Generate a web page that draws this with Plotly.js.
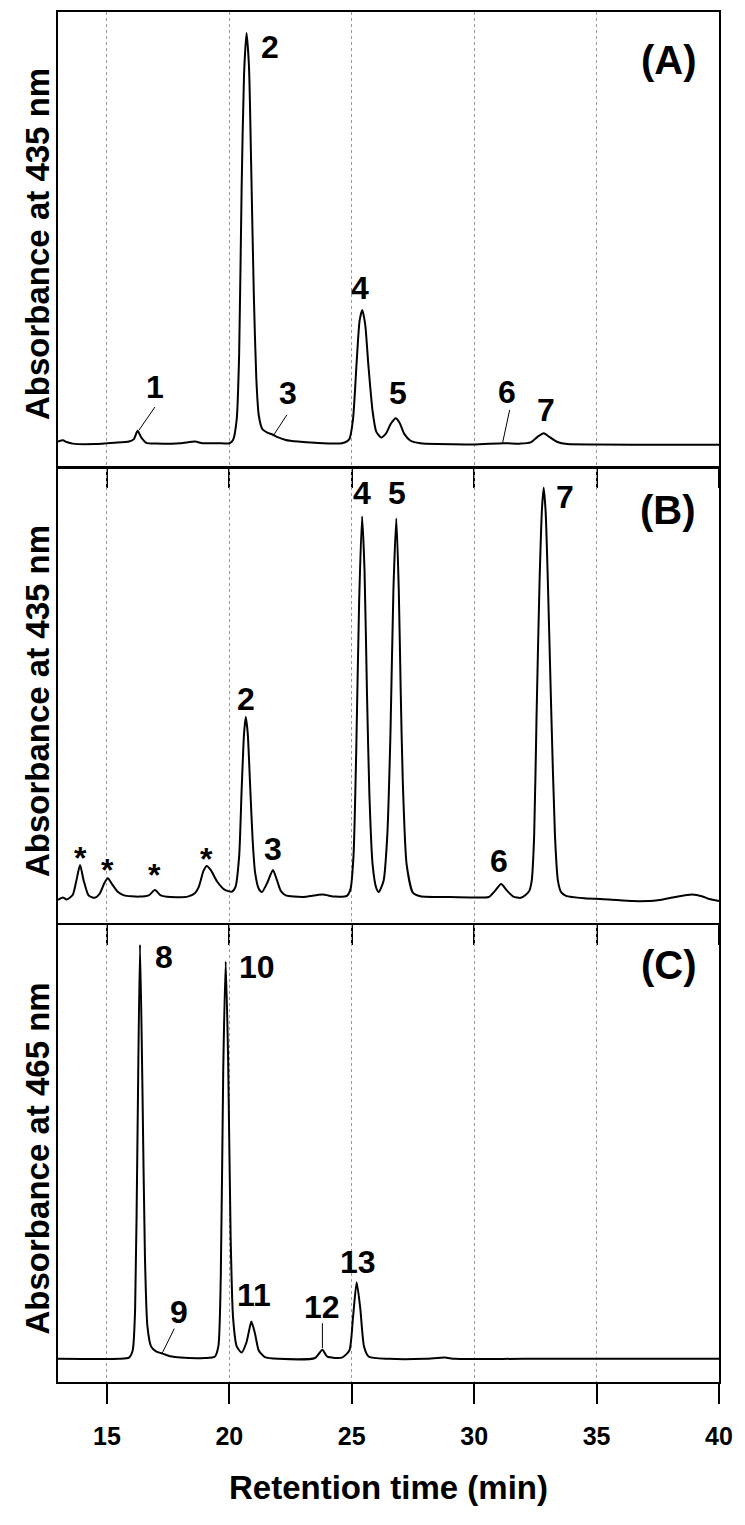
<!DOCTYPE html>
<html>
<head>
<meta charset="utf-8">
<script src="https://cdn.plot.ly/plotly-3.0.1.min.js"></script>
<style>
  html, body { margin: 0; padding: 0; background: #ffffff; }
  #chart { width: 745px; height: 1525px; }
</style>
</head>
<body>
<div id="chart"></div>
<script>
// ---------- data ----------
// Panel A: absorbance at 435 nm (arbitrary units, tallest peak = 100)
var timeA = [13.0, 13.2, 13.35, 13.6, 14.5, 15.3, 15.9, 16.1, 16.25, 16.4, 16.6, 17.0, 18.0, 18.6, 18.9, 19.5,
             20.0, 20.15, 20.3, 20.4, 20.5, 20.6, 20.7, 20.8, 20.9, 21.0, 21.1, 21.2, 21.35, 21.55, 21.8, 22.0, 22.3, 22.8, 23.5,
             24.6, 24.9, 25.05, 25.2, 25.32, 25.43, 25.55, 25.68, 25.85, 26.0, 26.2, 26.4, 26.6, 26.8, 26.95, 27.15, 27.4, 27.8, 28.5,
             30.0, 31.2, 31.9, 32.3, 32.6, 32.84, 33.1, 33.4, 33.8, 35.0, 38.0, 40.0];
var absA  = [0.6, 0.9, 0.5, 0.1, 0.0, 0.3, 0.6, 1.2, 3.2, 1.6, 0.3, 0.1, 0.2, 0.6, 0.2, 0.2,
             0.2, 1.0, 6, 22, 62, 90, 100, 92, 65, 36, 16, 7, 3.6, 2.8, 2.2, 1.6, 1.0, 0.6, 0.3,
             0.2, 1.2, 6, 20, 30, 32.6, 29, 19, 8, 3, 1.6, 2.6, 5, 6.3, 5.2, 2.4, 0.8, 0.2, 0.0,
             -0.1, 0.2, 0.1, 0.4, 1.8, 2.6, 1.6, 0.5, 0.0, -0.1, -0.2, -0.2];

// Panel B: absorbance at 435 nm
var timeB = [13.0, 13.2, 13.35, 13.6, 13.75, 13.9, 14.05, 14.25, 14.5, 14.7, 14.9, 15.04, 15.2, 15.45, 15.7, 16.3, 16.7, 16.96, 17.2, 17.6,
             18.3, 18.6, 18.75, 18.95, 19.08, 19.25, 19.5, 19.8, 20.1, 20.25, 20.4, 20.5, 20.6, 20.67, 20.75, 20.85, 20.95, 21.05, 21.2, 21.33,
             21.55, 21.78, 21.95, 22.1, 22.3, 23.0, 23.8, 24.3, 24.8, 24.95, 25.07, 25.18, 25.3, 25.42, 25.52, 25.62, 25.72, 25.85, 26.0, 26.1,
             26.3, 26.45, 26.58, 26.7, 26.82, 26.92, 27.0, 27.08, 27.24, 27.5, 27.8, 29.0, 30.0, 30.6, 30.85, 31.1, 31.35, 31.6, 31.9,
             32.1, 32.25, 32.35, 32.45, 32.55, 32.67, 32.77, 32.84, 32.92, 33.01, 33.15, 33.3, 33.42, 33.55, 33.75, 34.5,
             35.5, 36.5, 37.5, 38.2, 38.9, 39.3, 39.6, 40.0];
var absB  = [-0.7, -0.1, -0.6, 0.5, 4, 7.8, 4, 0.4, -0.2, 0.8, 3.5, 4.6, 3.2, 1.2, 0.4, 0.1, 0.4, 1.7, 0.4, 0.0,
             0.1, 1.0, 2.5, 6.5, 7.6, 6.5, 3.8, 1.8, 1.3, 2.5, 10, 26, 40, 44, 40, 27, 14, 6, 2, 1.2,
             3.5, 6.6, 4, 1.5, 0.4, 0.0, 0.6, 0.1, 0.3, 2, 10, 35, 72, 93, 80, 50, 25, 8, 2.2, 1.2,
             4, 15, 40, 75, 92.5, 75, 50, 29, 8, 1, 0.2, 0.0, -0.1, 0.0, 1.5, 3.2, 1.5, 0.1, -0.2,
             0.5, 1.5, 4, 15, 45, 77, 95, 100, 94, 77, 45, 15, 4, 1.2, 0.3, -0.3,
             -0.6, -1.0, -0.8, 0.0, 0.6, 0.2, -0.5, -1.0];

// Panel C: absorbance at 465 nm
var timeC = [13.0, 15.5, 15.9, 16.05, 16.15, 16.25, 16.35, 16.45, 16.55, 16.65, 16.8, 17.0, 17.3, 17.6, 18.0, 19.0,
             19.4, 19.55, 19.65, 19.75, 19.85, 19.95, 20.05, 20.15, 20.3, 20.5, 20.7, 20.9, 21.05, 21.2, 21.45, 22.0,
             23.5, 23.8, 24.0, 24.6, 24.9, 25.05, 25.2, 25.35, 25.5, 25.7, 26.5, 28.0, 28.8, 29.2, 32.0, 40.0];
var absC  = [0.0, 0.0, 0.3, 2, 12, 55, 100, 65, 25, 8, 3, 1.8, 1.2, 0.6, 0.3, 0.2,
             0.5, 3, 20, 70, 96, 72, 30, 10, 3, 1.5, 4, 9, 6, 2, 0.4, 0.0,
             0.2, 2.2, 0.5, 0.3, 2, 10, 18.5, 12, 3, 0.5, 0.0, 0.0, 0.3, 0.0, 0.0, 0.0];

var tickValues = [15, 20, 25, 30, 35, 40];
var tickLabels = ["15", "20", "25", "30", "35", "40"];

var peakTextA = ["1", "2", "3", "4", "5", "6", "7"];
var peakTextB = ["*", "*", "*", "*", "2", "3", "4", "5", "6", "7"];
var peakTextC = ["8", "9", "10", "11", "12", "13"];
var panelText = ["(A)", "(B)", "(C)"];
var yTitles = ["Absorbance at 435 nm", "Absorbance at 435 nm", "Absorbance at 465 nm"];
var xTitle = "Retention time (min)";

// ---------- drawing ----------
var FONT = "Liberation Sans, Arial, sans-serif";
function trace(x, y, xa, ya) {
  return { x: x, y: y, xaxis: xa, yaxis: ya, type: "scatter", mode: "lines",
           line: { color: "#000000", width: 2, shape: "spline", smoothing: 0.6 },
           hoverinfo: "skip", showlegend: false };
}
var data = [ trace(timeA, absA, "x", "y"), trace(timeB, absB, "x2", "y2"), trace(timeC, absC, "x3", "y3") ];

function xaxis(anchor, showLabels) {
  return {
    anchor: anchor, range: [13, 40], showline: true, linecolor: "#000", linewidth: 2, mirror: true,
    ticks: "outside", ticklen: 20, tickwidth: 2, tickcolor: "#000",
    tickmode: "array", tickvals: tickValues, ticktext: tickLabels, showticklabels: showLabels,
    ticklabelstandoff: 11,
    tickfont: { family: FONT, size: 25, color: "#000", weight: "bold" },
    showgrid: true, gridcolor: "#9a9a9a", gridwidth: 1, griddash: "dot",
    zeroline: false, fixedrange: true
  };
}
function yaxis(anchor, dom, rng) {
  return { anchor: anchor, domain: dom, range: rng, showline: true, linecolor: "#000", linewidth: 2, mirror: true,
           ticks: "", showticklabels: false, showgrid: false, zeroline: false, fixedrange: true };
}

var ann = [];
function lab(t, xr, yr, x, y, size) {
  ann.push({ text: t, xref: xr, yref: yr, x: x, y: y, showarrow: false, xanchor: "center", yanchor: "middle",
             font: { family: FONT, size: size || 32, color: "#000", weight: "bold" } });
}
// Panel A labels
var posA = [[16.96, 13.9], [21.65, 96.6], [22.39, 12.4], [25.33, 38], [26.88, 12.4], [31.33, 12.7], [32.92, 8.3]];
peakTextA.forEach(function (t, i) { lab(t, "x", "y", posA[i][0], posA[i][1]); });
// Panel B labels
var posB = [[13.9, 9.6], [15.04, 6.5], [16.96, 5.3], [19.08, 9.4], [20.67, 48.4], [21.78, 11.8], [25.41, 98.8], [26.84, 98.8], [31.0, 8.8], [33.69, 97.8]];
peakTextB.forEach(function (t, i) { lab(t, "x2", "y2", posB[i][0], posB[i][1]); });
// Panel C labels
var posC = [[17.33, 97], [17.95, 11.3], [21.14, 94.6], [21.0, 15.4], [23.8, 12.5], [25.25, 23.4]];
peakTextC.forEach(function (t, i) { lab(t, "x3", "y3", posC[i][0], posC[i][1]); });
// panel tags
lab(panelText[0], "x", "y", 37.94, 93.4, 40);
lab(panelText[1], "x2", "y2", 37.9, 94.6, 40);
lab(panelText[2], "x3", "y3", 37.94, 95.2, 40);
// y titles (centred on each panel, slightly low)
var yDom = [[0.6686, 1.0], [0.3350, 0.6664], [0.0, 0.3336]];
yTitles.forEach(function (t, i) {
  ann.push({ text: t, xref: "paper", yref: "paper", x: -0.031, y: (yDom[i][0] + yDom[i][1]) / 2 - 0.004,
             textangle: -90, showarrow: false, xanchor: "center", yanchor: "middle",
             font: { family: FONT, size: 33, color: "#000", weight: "bold" } });
});
// x title
ann.push({ text: xTitle, xref: "paper", yref: "paper", x: 0.5, y: -0.077, showarrow: false,
           xanchor: "center", yanchor: "middle",
           font: { family: FONT, size: 33, color: "#000", weight: "bold" } });

// leader lines
var shapes = [];
function lead(xr, yr, x0, y0, x1, y1) {
  shapes.push({ type: "line", xref: xr, yref: yr, x0: x0, y0: y0, x1: x1, y1: y1, line: { color: "#000", width: 1 } });
}
lead("x", "y", 16.96, 9.0, 16.31, 3.4);
lead("x", "y", 22.35, 7.1, 21.78, 1.9);
lead("x", "y", 31.45, 8.3, 31.16, 0.3);
lead("x3", "y3", 17.75, 7.3, 17.25, 1.3);
lead("x3", "y3", 23.8, 8.6, 23.8, 2.6);

var layout = {
  width: 745, height: 1525,
  margin: { l: 58, r: 26, t: 12, b: 143 },
  paper_bgcolor: "#fff", plot_bgcolor: "#fff",
  font: { family: FONT, color: "#000" },
  xaxis: xaxis("y", false),
  xaxis2: xaxis("y2", false),
  xaxis3: xaxis("y3", true),
  yaxis: yaxis("x", yDom[0], [-5.35, 105.1]),
  yaxis2: yaxis("x2", yDom[1], [-6.36, 104.6]),
  yaxis3: yaxis("x3", yDom[2], [-5.6, 104.8]),
  annotations: ann,
  shapes: shapes,
  showlegend: false
};

Plotly.newPlot("chart", data, layout, { displayModeBar: false, staticPlot: true });
</script>
</body>
</html>
